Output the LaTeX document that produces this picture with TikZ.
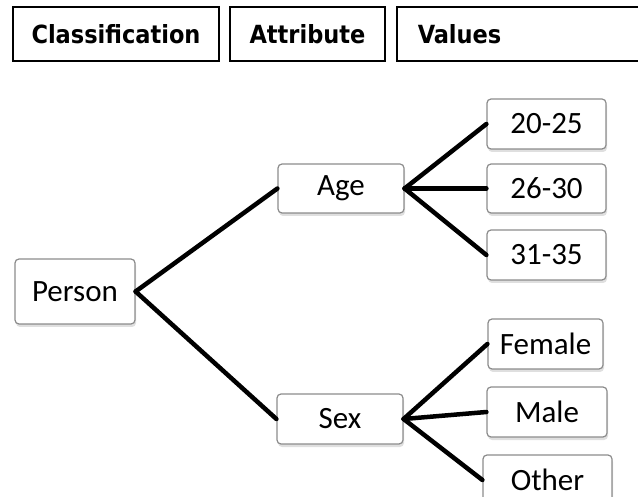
\documentclass[tikz,border=0pt]{standalone}
\usepackage{fontspec}
\setmainfont{Carlito}
\newfontfamily\headfont{DejaVu Sans Condensed}
\usetikzlibrary{shadows}
\tikzset{
  headbox/.style={draw=black, line width=1.5pt, inner sep=0pt,
    minimum height=54pt, font=\headfont\bfseries\fontsize{25}{30}\selectfont},
  valbox/.style={draw=black!45, fill=white, rounded corners=4pt, line width=1.2pt,
    inner sep=0pt, minimum height=50pt, font=\fontsize{31}{36}\selectfont,
    drop shadow={shadow xshift=1pt, shadow yshift=-3pt, opacity=0.25}},
  link/.style={line width=4.5pt, line cap=round}
}
\begin{document}
\begin{tikzpicture}[x=1pt, y=-1pt]
\clip (0,0) rectangle (638,497);
\fill[white] (0,0) rectangle (638,497);
% column heads
\node[headbox, minimum width=206pt] (hclass) at (116,34) {Classification};
\node[headbox, minimum width=155pt] (hattr) at (307.5,34) {Attribute};
\node[headbox, anchor=west, text width=229pt, inner xsep=21pt, align=left] (hval) at (396,34) {Values};
% tree
\node[valbox, minimum width=120pt, minimum height=65pt] (person) at (75,291.5) {Person};
\node[valbox, minimum width=126pt, minimum height=49pt] (age) at (341,188.5) {Age};
\node[valbox, minimum width=126pt] (sex) at (340,419) {Sex};
\node[valbox, minimum width=119pt] (v2025) at (546.5,124) {20-25};
\node[valbox, minimum width=119pt, minimum height=49pt] (v2630) at (546.5,188.5) {26-30};
\node[valbox, minimum width=119pt] (v3135) at (546.5,255) {31-35};
\node[valbox, minimum width=115pt] (female) at (545.5,344) {Female};
\node[valbox, minimum width=120pt] (male) at (547,412) {Male};
\node[valbox, minimum width=129pt] (other) at (547.5,480) {Other};
\draw[link] (person.east) -- (age.west);
\draw[link] (person.east) -- (sex.west);
\draw[link] (age.east) -- (v2025.west);
\draw[link] (age.east) -- (v2630.west);
\draw[link] (age.east) -- (v3135.west);
\draw[link] (sex.east) -- (female.west);
\draw[link] (sex.east) -- (male.west);
\draw[link] (sex.east) -- (other.west);
\end{tikzpicture}
\end{document}
